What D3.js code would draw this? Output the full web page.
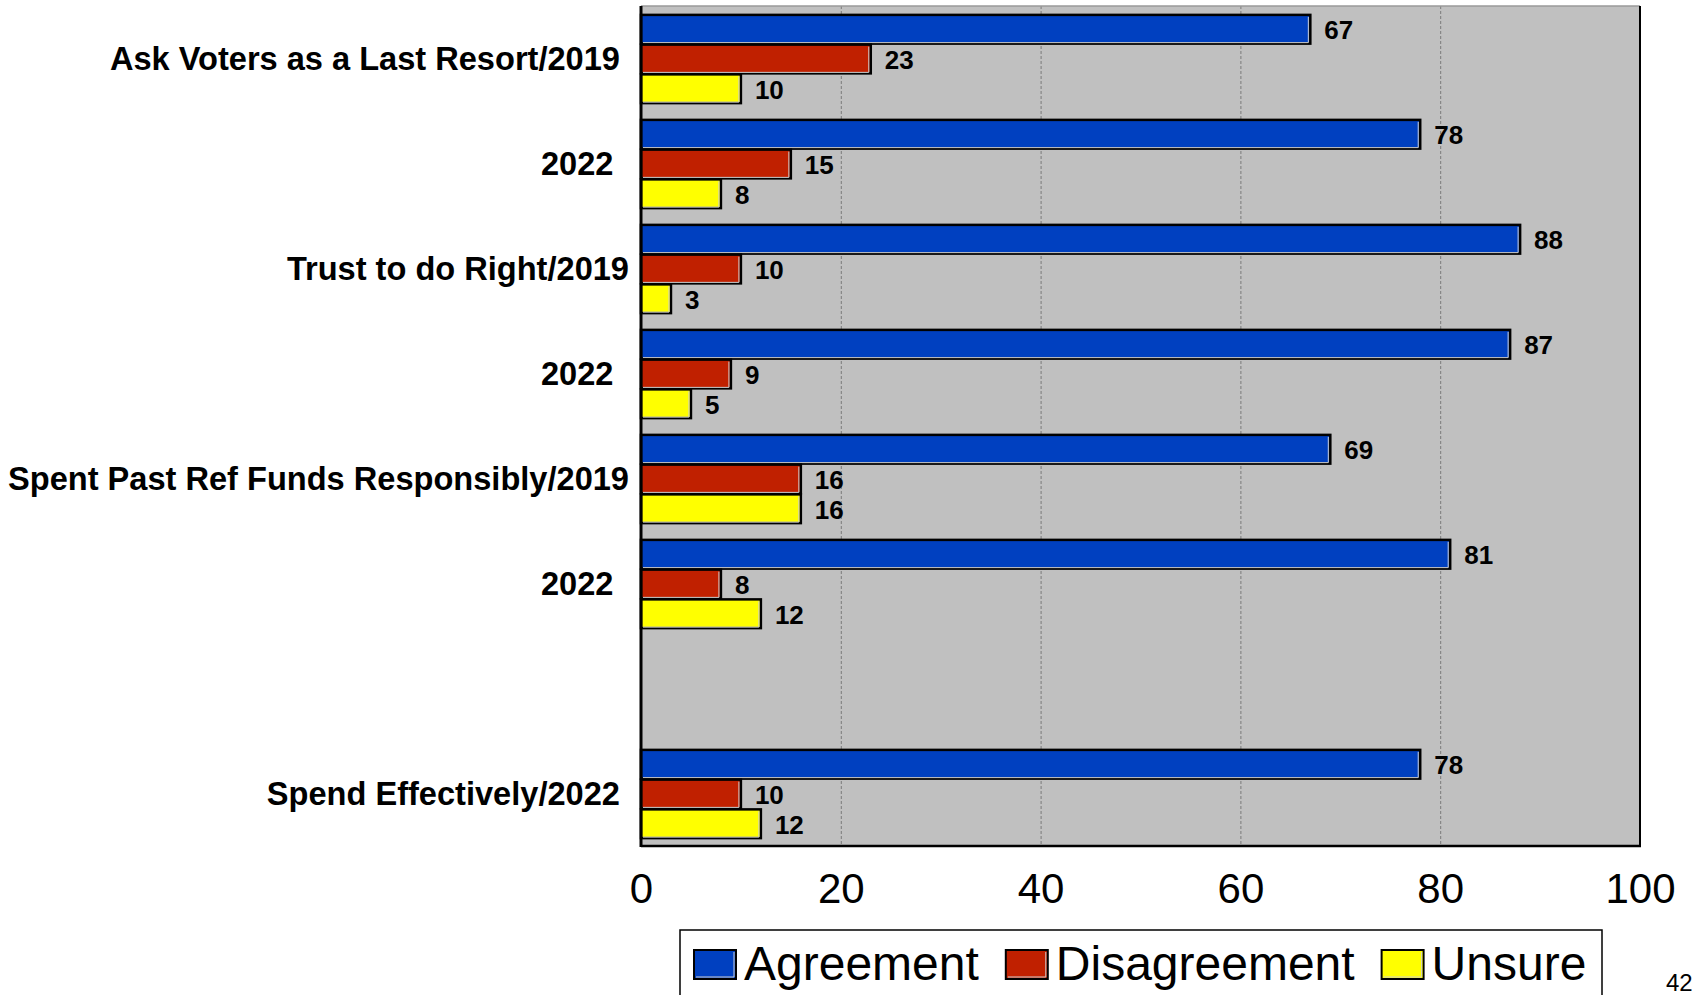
<!DOCTYPE html>
<html>
<head>
<meta charset="utf-8">
<script src="https://cdn.jsdelivr.net/npm/d3@7/dist/d3.min.js"></script>
<style>
  body { margin: 0; background: #fff; }
  svg text { font-family: Arial, 'Liberation Sans', sans-serif; }
</style>
</head>
<body>
<div id="chart"></div>
<script>
(function() {
  'use strict';

  // data
  var categories = [
    'Ask Voters as a Last Resort/2019 ',
    '2022 \u2009',
    'Trust to do Right/2019',
    '2022 \u2009',
    'Spent Past Ref Funds Responsibly/2019',
    '2022 \u2009',
    '',
    'Spend Effectively/2022 '
  ];
  var series = ['Agreement', 'Disagreement', 'Unsure'];
  var agreement = [67, 78, 88, 87, 69, 81, null, 78];
  var disagreement = [23, 15, 10, 9, 16, 8, null, 10];
  var unsure = [10, 8, 3, 5, 16, 12, null, 12];
  var x_ticks = [0, 20, 40, 60, 80, 100];
  var page_number = '42';

  var values = {
    Agreement: agreement,
    Disagreement: disagreement,
    Unsure: unsure
  };
  var colors = {
    Agreement: '#0040C0',
    Disagreement: '#C02000',
    Unsure: '#FFFF00'
  };

  var svg_width = 1692;
  var svg_height = 995;
  var plot = { left: 641, right: 1640, top: 6, bottom: 846 };

  var svg = d3.select('#chart').append('svg')
    .attr('width', svg_width)
    .attr('height', svg_height);

  var x = d3.scaleLinear()
    .domain([0, 100])
    .range([plot.left, plot.right]);

  var y = d3.scaleBand()
    .domain(d3.range(categories.length))
    .range([plot.top, plot.bottom])
    .paddingInner(0.15)
    .paddingOuter(0.075);

  var y_sub = d3.scaleBand()
    .domain(series)
    .range([0, y.bandwidth()]);

  // plot background
  svg.append('rect')
    .attr('x', plot.left)
    .attr('y', plot.top)
    .attr('width', plot.right - plot.left)
    .attr('height', plot.bottom - plot.top)
    .style('fill', '#C0C0C0');

  // gridlines
  svg.selectAll('line.grid')
    .data(x_ticks.slice(1, -1))
    .enter()
    .append('line')
    .attr('class', 'grid')
    .attr('x1', function(d) { return x(d) + 0.5; })
    .attr('x2', function(d) { return x(d) + 0.5; })
    .attr('y1', plot.top)
    .attr('y2', plot.bottom)
    .style('stroke', '#7a7a7a')
    .style('stroke-width', 1)
    .style('stroke-dasharray', '3,2');

  // plot frame
  svg.append('line')
    .attr('x1', plot.left).attr('x2', plot.right)
    .attr('y1', plot.top).attr('y2', plot.top)
    .style('stroke', '#9a9a9a').style('stroke-width', 1.5);
  svg.append('line')
    .attr('x1', plot.right).attr('x2', plot.right)
    .attr('y1', plot.top).attr('y2', plot.bottom)
    .style('stroke', '#000').style('stroke-width', 2);
  svg.append('line')
    .attr('x1', plot.left).attr('x2', plot.right + 1)
    .attr('y1', plot.bottom).attr('y2', plot.bottom)
    .style('stroke', '#000').style('stroke-width', 2.5);

  // bars
  var rows = [];
  categories.forEach(function(c, i) {
    series.forEach(function(s) {
      if (values[s][i] != null) {
        rows.push({ index: i, series: s, value: values[s][i] });
      }
    });
  });

  var bar = svg.selectAll('g.bar')
    .data(rows)
    .enter()
    .append('g')
    .attr('class', 'bar')
    .attr('transform', function(d) {
      return 'translate(0,' + (y(d.index) + y_sub(d.series)) + ')';
    });

  bar.append('rect')
    .attr('x', x(0))
    .attr('y', 1)
    .attr('width', function(d) { return x(d.value) - x(0); })
    .attr('height', y_sub.bandwidth() - 1)
    .style('fill', function(d) { return colors[d.series]; })
    .style('stroke', '#000')
    .style('stroke-width', 2.5);

  // light inner edge on the right and bottom
  bar.append('path')
    .attr('d', function(d) {
      var x1 = x(d.value) - 2;
      var y1 = y_sub.bandwidth() - 1;
      return 'M' + (x(0) + 2) + ',' + y1 + 'L' + x1 + ',' + y1 + 'L' + x1 + ',' + 3;
    })
    .style('fill', 'none')
    .style('stroke', '#d0d0d0')
    .style('stroke-width', 1);

  bar.append('text')
    .attr('x', function(d) { return x(d.value) + 14; })
    .attr('y', function(d) { return y_sub.bandwidth() / 2 + 1; })
    .attr('dy', '0.36em')
    .style('font-size', '26px')
    .style('font-weight', 'bold')
    .style('fill', '#000')
    .text(function(d) { return d.value; });

  // left axis line over the bars
  svg.append('line')
    .attr('x1', plot.left).attr('x2', plot.left)
    .attr('y1', plot.top).attr('y2', plot.bottom + 1)
    .style('stroke', '#000').style('stroke-width', 3);

  // category labels
  var y_axis = svg.append('g')
    .attr('transform', 'translate(' + plot.left + ',0)')
    .call(d3.axisLeft(y)
      .tickSize(0)
      .tickPadding(12)
      .tickFormat(function(i) { return categories[i]; }));
  y_axis.select('.domain').remove();
  y_axis.selectAll('text')
    .attr('xml:space', 'preserve')
    .attr('dy', '0.34em')
    .style('white-space', 'pre')
    .style('font-size', '32.6px')
    .style('font-weight', 'bold')
    .style('fill', '#000');

  // value axis labels
  var x_axis = svg.append('g')
    .attr('transform', 'translate(0,' + plot.bottom + ')')
    .call(d3.axisBottom(x)
      .tickValues(x_ticks)
      .tickSize(0)
      .tickPadding(27));
  x_axis.select('.domain').remove();
  x_axis.selectAll('text')
    .style('font-size', '42px')
    .style('fill', '#000');

  // legend
  var legend_box = { x: 680, y: 930, width: 922 };
  svg.append('rect')
    .attr('x', legend_box.x)
    .attr('y', legend_box.y)
    .attr('width', legend_box.width)
    .attr('height', 80)
    .style('fill', '#fff')
    .style('stroke', '#000')
    .style('stroke-width', 1.5);

  var swatch_w = 42;
  var swatch_h = 29;
  var legend_x = 694;
  series.forEach(function(s) {
    var g = svg.append('g')
      .attr('transform', 'translate(' + legend_x + ',950)');
    g.append('rect')
      .attr('width', swatch_w)
      .attr('height', swatch_h)
      .style('fill', colors[s])
      .style('stroke', '#000')
      .style('stroke-width', 2);
    g.append('path')
      .attr('d', 'M2,' + (swatch_h - 2) + 'L' + (swatch_w - 2) + ',' + (swatch_h - 2) + 'L' + (swatch_w - 2) + ',2')
      .style('fill', 'none')
      .style('stroke', '#d0d0d0')
      .style('stroke-width', 1);
    var t = g.append('text')
      .attr('x', swatch_w + 8)
      .attr('y', 30)
      .style('font-size', '48px')
      .style('fill', '#000')
      .text(s);
    legend_x += swatch_w + 8 + t.node().getComputedTextLength() + 27;
  });

  svg.append('text')
    .attr('x', 1666)
    .attr('y', 991)
    .style('font-size', '24px')
    .style('fill', '#000')
    .text(page_number);

})();
</script>
</body>
</html>
